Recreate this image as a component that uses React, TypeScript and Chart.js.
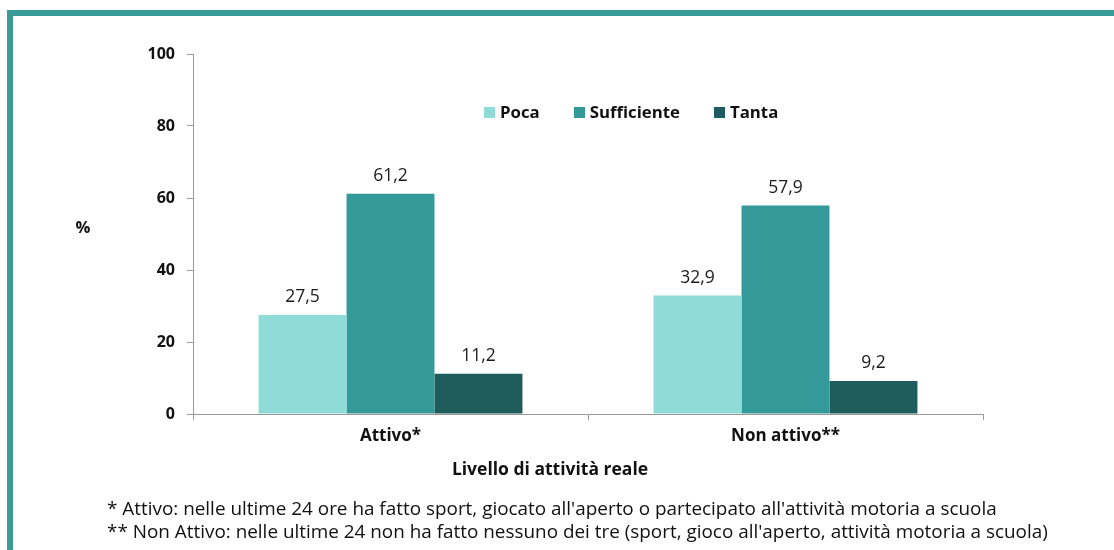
import React, { useEffect, useRef } from "react";
import { Chart, registerables } from "chart.js";

Chart.register(...registerables);

const categories = ["Attivo*", "Non attivo**"];
const seriesNames = ["Poca", "Sufficiente", "Tanta"];
const poca = [27.5, 32.9];
const sufficiente = [61.2, 57.9];
const tanta = [11.2, 9.2];
const seriesColors = ["#8FDBD8", "#339A99", "#1F5C5C"];
const yTicks = [0, 20, 40, 60, 80, 100];
const footnotes = [
  "* Attivo: nelle ultime 24 ore ha fatto sport, giocato all'aperto o partecipato all'attività motoria a scuola",
  "** Non Attivo: nelle ultime 24 non ha fatto nessuno dei tre (sport, gioco all'aperto, attività motoria a scuola)",
];
const xTitle = "Livello di attività reale";
const yTitle = "%";

const FONT = "'Open Sans', 'Noto Sans', sans-serif";

const fmt = (v: number) => v.toFixed(1).replace(".", ",");

const valueLabels = {
  id: "valueLabels",
  afterDatasetsDraw(chart: any) {
    const ctx = chart.ctx;
    ctx.save();
    ctx.font = `400 17.5px ${FONT}`;
    ctx.fillStyle = "#1a1a1a";
    ctx.textAlign = "center";
    ctx.textBaseline = "middle";
    chart.data.datasets.forEach((ds: any, i: number) => {
      const meta = chart.getDatasetMeta(i);
      meta.data.forEach((bar: any, j: number) => {
        ctx.fillText(fmt(ds.data[j]), bar.x, bar.y - 18);
      });
    });
    ctx.restore();
  },
};

export default function App() {
  const ref = useRef<HTMLCanvasElement>(null);
  useEffect(() => {
    if (!ref.current) return;
    const seriesData = [poca, sufficiente, tanta];
    const chart = new Chart(ref.current, {
      type: "bar",
      data: {
        labels: categories,
        datasets: seriesNames.map((n, i) => ({
          label: n,
          data: seriesData[i],
          backgroundColor: seriesColors[i],
          borderWidth: 0,
          barPercentage: 1,
          categoryPercentage: 0.668,
        })),
      },
      options: {
        responsive: false,
        maintainAspectRatio: false,
        animation: false,
        layout: { padding: { left: 0, top: 54, right: 131, bottom: 0 } },
        plugins: {
          legend: { display: false },
          tooltip: { enabled: false },
        },
        scales: {
          x: {
            grid: {
              offset: true,
              drawOnChartArea: false,
              drawTicks: true,
              tickLength: 6,
              color: "#9a9a9a",
            },
            border: { color: "#9a9a9a", width: 1 },
            ticks: {
              color: "#111",
              font: { family: FONT, size: 17, weight: "bold" },
              padding: 6,
            },
            afterFit(scale: any) {
              scale.height = 136;
            },
          },
          y: {
            min: 0,
            max: 100,
            afterBuildTicks(scale: any) {
              scale.ticks = yTicks.map((v) => ({ value: v }));
            },
            grid: {
              drawOnChartArea: false,
              drawTicks: true,
              tickLength: 6,
              color: "#9a9a9a",
            },
            border: { color: "#9a9a9a", width: 1 },
            ticks: {
              color: "#111",
              font: { family: FONT, size: 16, weight: "bold" },
              padding: 12,
            },
            afterFit(scale: any) {
              scale.width = 193;
            },
          },
        },
      },
      plugins: [valueLabels],
    });
    return () => chart.destroy();
  }, []);

  const teal = "#3A9C99";
  return (
    <div
      style={{
        position: "absolute",
        left: 0,
        top: 0,
        width: 1114,
        height: 550,
        background: "#fff",
        overflow: "hidden",
        fontFamily: FONT,
        color: "#111",
      }}
    >
      <div style={{ position: "absolute", left: 7, top: 10, width: 1107, height: 6, background: teal }} />
      <div style={{ position: "absolute", left: 7, top: 10, width: 6, height: 540, background: teal }} />
      <canvas ref={ref} width={1114} height={550} style={{ position: "absolute", left: 0, top: 0 }} />
      <div
        style={{
          position: "absolute",
          left: 60,
          width: 46,
          top: 216,
          textAlign: "center",
          fontWeight: 700,
          fontSize: 16.5,
          lineHeight: "22px",
        }}
      >
        {yTitle}
      </div>
      <div
        style={{
          position: "absolute",
          left: 400,
          width: 300,
          top: 457,
          textAlign: "center",
          fontWeight: 700,
          fontSize: 17.5,
          lineHeight: "22px",
        }}
      >
        {xTitle}
      </div>
      <div
        style={{
          position: "absolute",
          left: 480,
          top: 101,
          display: "flex",
          alignItems: "center",
          fontWeight: 700,
          fontSize: 16.8,
          lineHeight: "22px",
        }}
      >
        {seriesNames.map((n, i) => (
          <div key={n} style={{ display: "flex", alignItems: "center", marginLeft: i === 0 ? 4 : 0, marginRight: i < 2 ? 34 : 0 }}>
            <span style={{ display: "inline-block", width: 11, height: 11, background: seriesColors[i], marginRight: 5 }} />
            <span>{n}</span>
          </div>
        ))}
      </div>
      {footnotes.map((f, i) => (
        <div
          key={i}
          style={{
            position: "absolute",
            left: 107,
            top: 496 + i * 23,
            whiteSpace: "nowrap",
            fontSize: 18.9,
            lineHeight: "24px",
          }}
        >
          {f}
        </div>
      ))}
    </div>
  );
}
